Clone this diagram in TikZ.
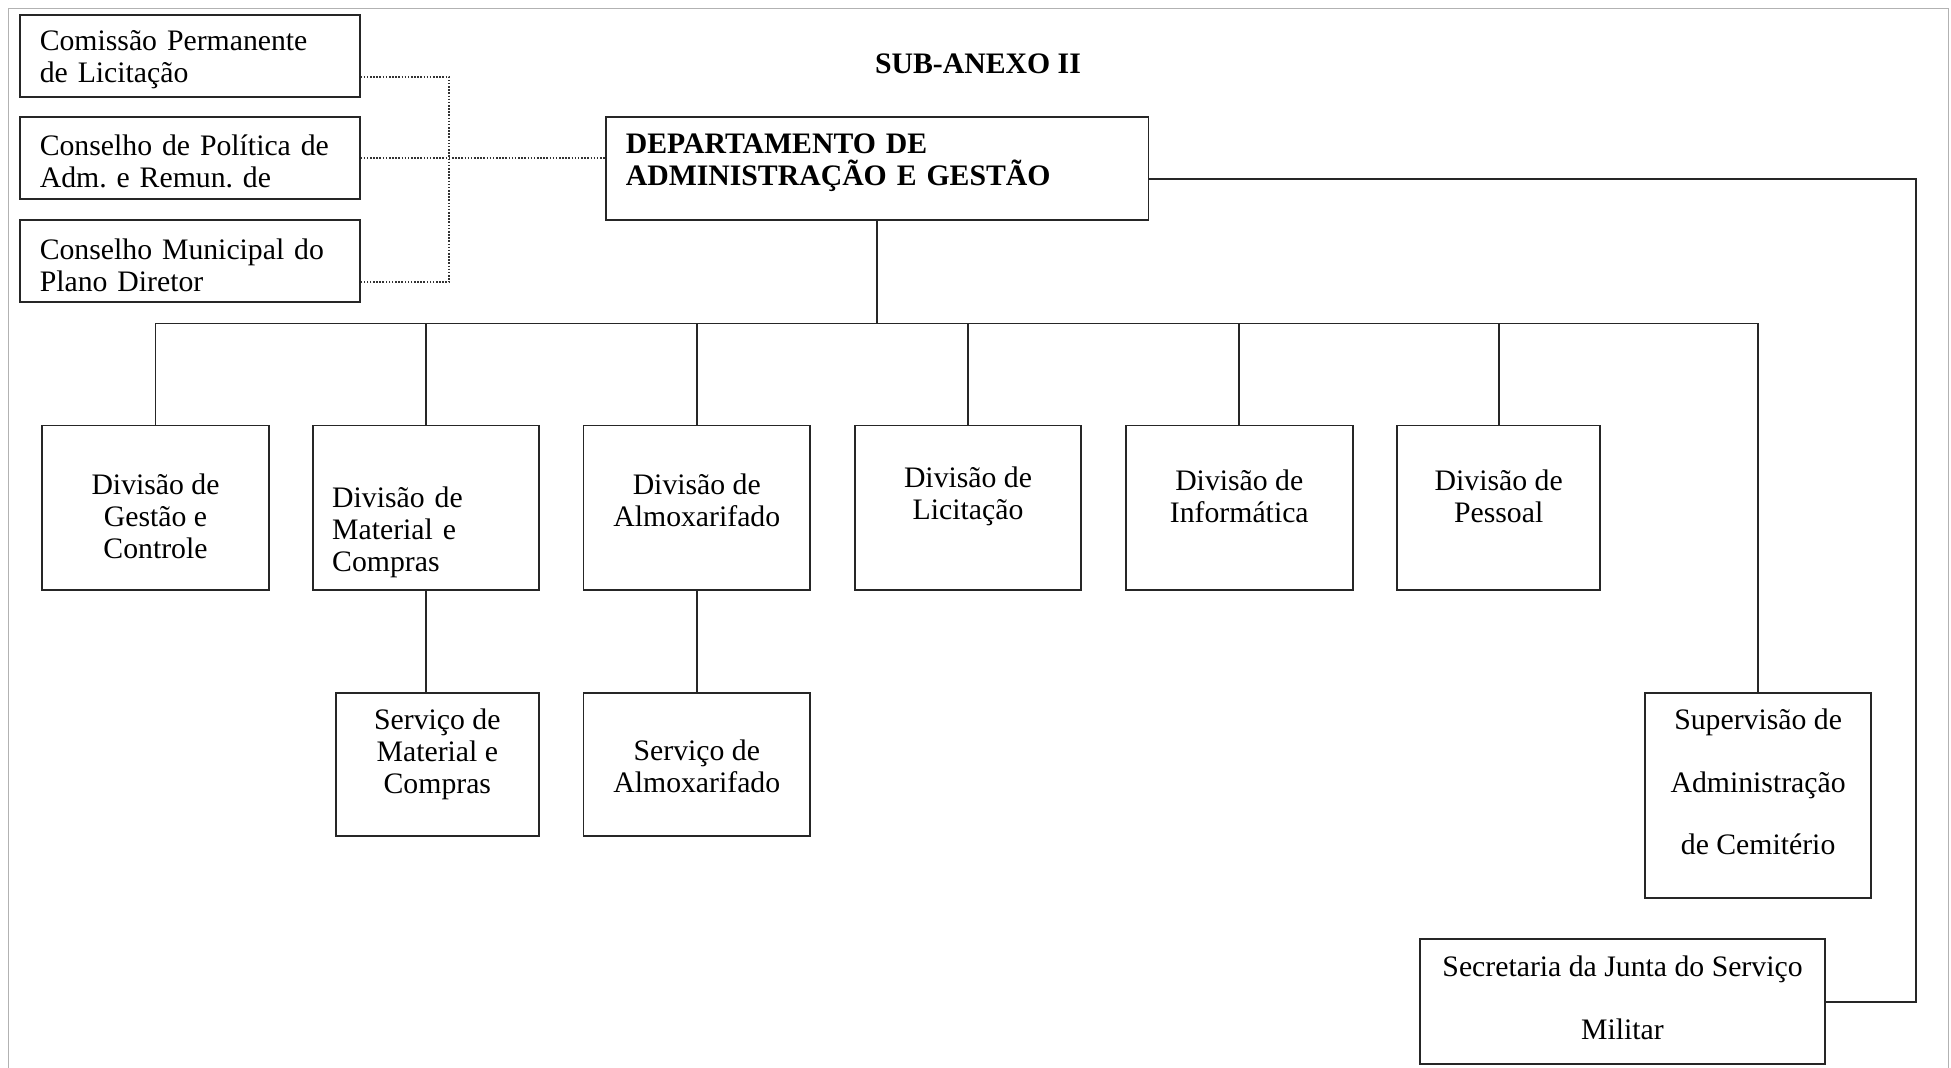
\documentclass[tikz,border=0pt]{standalone}
\usepackage{fontspec}
\setmainfont{Liberation Serif}
\usepackage{tikz}
\usetikzlibrary{calc, positioning}
\newcommand{\orgfont}{\fontsize{17}{18.2}\selectfont\frenchspacing}
\newcommand{\orgwide}{\fontsize{17}{35.6}\selectfont\frenchspacing}
\tikzstyle{orgbox} = [rectangle, draw=black!85, line width=1.1pt, inner sep=0pt]
\tikzstyle{txt} = [align=center, font=\orgfont, inner sep=0pt]
\tikzstyle{line} = [draw=black!85, line width=1.1pt]
\tikzstyle{dotline} = [draw=black!80, line width=1pt, dash pattern=on 0.9pt off 0.9pt]

\begin{document}
\begin{tikzpicture}[x=0.025cm, y=-0.025cm,
    council/.style={orgbox, minimum width=6.825cm, minimum height=1.65cm},
    division/.style={orgbox, minimum width=4.55cm, minimum height=3.3cm},
    service/.style={orgbox, minimum height=2.875cm}
    ]
    \useasboundingbox (0,0) rectangle (1568,858);
    \draw[gray!60, line width=0.6pt] (7,858) -- (7,7) -- (1566,7) -- (1566,858);

    % conselhos
    \node[council, label={[txt, align=left, text width=6.025cm, yshift=-0.075cm]center:Comissão Permanente\\de Licitação}] (comissao) at (152.5,45) {};
    \node[council, label={[txt, align=left, text width=6.025cm, yshift=-0.075cm]center:Conselho de Política de\\Adm. e Remun. de}] (politica) at (152.5,127) {};
    \node[council, label={[txt, align=left, text width=6.025cm, yshift=-0.075cm]center:Conselho Municipal do\\Plano Diretor}] (municipal) at (152.5,210) {};

    \node[txt, font=\orgfont\bfseries] (title) at (786,51) {SUB-ANEXO II};
    \node[orgbox, minimum width=10.9cm, minimum height=2.075cm,
        label={[txt, align=left, text width=10.1cm, font=\orgfont\bfseries, yshift=0.125cm]center:DEPARTAMENTO DE\\ADMINISTRAÇÃO E GESTÃO}] (dept) at (705,135.5) {};

    % divisoes
    \node[division, label={[txt, yshift=-0.175cm]center:Divisão de\\Gestão e\\Controle}] (gestao) at (125,408) {};
    \node[division, label={[txt, align=left, text width=3.775cm, yshift=-0.5cm]center:Divisão de\\Material e\\Compras}] (material) at (342.5,408) {};
    \node[division, label={[txt, yshift=0.15cm]center:Divisão de\\Almoxarifado}] (almox) at (560,408) {};
    \node[division, label={[txt, yshift=0.22cm]center:Divisão de\\Licitação}] (licit) at (778,408) {};
    \node[division, label={[txt, yshift=0.22cm]center:Divisão de\\Informática}] (inform) at (996,408) {};
    \node[division, minimum width=4.075cm, label={[txt, yshift=0.22cm]center:Divisão de\\Pessoal}] (pessoal) at (1204.5,408) {};

    % servicos
    \node[service, minimum width=4.075cm, label={[txt, yshift=0.2cm]center:Serviço de\\Material e\\Compras}] (servmat) at (351.5,614.5) {};
    \node[service, minimum width=4.55cm, label={[txt, yshift=-0.04cm]center:Serviço de\\Almoxarifado}] (servalm) at (560,614.5) {};
    \node[orgbox, minimum width=4.55cm, minimum height=4.125cm,
        label={[txt, font=\orgwide, yshift=0.275cm]center:Supervisão de\\Administração\\de Cemitério}] (superv) at (1413,639.5) {};
    \node[orgbox, minimum width=8.15cm, minimum height=2.5cm,
        label={[txt, font=\orgwide, yshift=0.075cm]center:Secretaria da Junta do Serviço\\Militar}] (secret) at (1304,805) {};

    % ligacoes
    \coordinate (dotbus) at (361,127);
    \draw[dotline] ($(comissao.north east)!0.75!(comissao.south east)$) -| (dotbus)
        |- ($(municipal.north east)!0.75!(municipal.south east)$);
    \draw[dotline] (politica.east) -- (politica.east -| dept.west);

    \coordinate (bus) at (705,260);
    \draw[line] (dept.south) -- (bus);
    \draw[line] (gestao.north) |- (superv.north |- bus) -- (superv.north);
    \foreach \d in {material, almox, licit, inform, pessoal}
        \draw[line] (\d.north) -- (\d.north |- bus);
    \draw[line] (material.south) -- (material.south |- servmat.north);
    \draw[line] (almox) -- (servalm);

    \coordinate (rail) at (1540,500);
    \draw[line] ($(dept.north east)!0.6!(dept.south east)$) -| (rail) |- (secret.east);
\end{tikzpicture}
\end{document}
